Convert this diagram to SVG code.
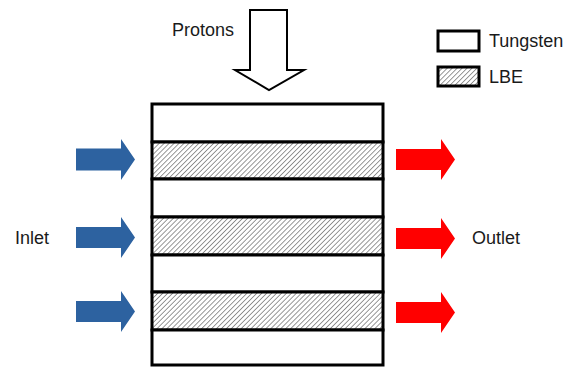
<svg xmlns="http://www.w3.org/2000/svg" width="568" height="367" viewBox="0 0 568 367">
<style>
text{font-family:"Liberation Sans",Arial,sans-serif;font-size:18px;fill:#1a1a1a}
.w{fill:#fff;stroke:#000;stroke-width:3}
.l{fill:url(#hatch);stroke:#000;stroke-width:3}
.in{fill:#2D62A0}
.out{fill:#FF0000}
</style>
<defs>
<pattern id="hatch" patternUnits="userSpaceOnUse" width="3.5" height="3.5" patternTransform="rotate(45)">
<rect width="3.5" height="3.5" fill="#fff"/>
<line x1="0" y1="0" x2="0" y2="3.5" stroke="#444" stroke-width="1.1"/>
</pattern>
</defs>
<rect width="568" height="367" fill="#fff"/>
<g id="protons">
<polygon points="250,10 287,10 287,70 304,70 269,90 235,70 250,70" fill="#fff" stroke="#000" stroke-width="2"/>
<text x="172" y="36">Protons</text>
</g>
<g id="legend">
<rect x="438" y="31" width="41" height="20" class="w" stroke-width="2.5"/>
<text x="489" y="47">Tungsten</text>
<rect x="438" y="67" width="41" height="19" class="l" stroke-width="2.5"/>
<text x="489" y="83">LBE</text>
</g>
<g id="target">
<rect x="152" y="104" width="231" height="38" class="w"/>
<rect x="152" y="142" width="231" height="37" class="l"/>
<rect x="152" y="179" width="231" height="38" class="w"/>
<rect x="152" y="217" width="231" height="38" class="l"/>
<rect x="152" y="255" width="231" height="37" class="w"/>
<rect x="152" y="292" width="231" height="38" class="l"/>
<rect x="152" y="330" width="231" height="35" class="w"/>
</g>
<g id="connectors">
<polygon class="in" points="76,148.5 121,148.5 121,139 135,159.5 121,180 121,170.5 76,170.5"/>
<polygon class="in" points="76,227 121,227 121,217 135,237.5 121,258 121,248 76,248"/>
<polygon class="in" points="76,301 121,301 121,291 135,311.5 121,332 121,322 76,322"/>
<polygon class="out" points="396,149 441,149 441,139 455,159.5 441,180 441,170 396,170"/>
<polygon class="out" points="396,228 441,228 441,218 455,238.5 441,259 441,249 396,249"/>
<polygon class="out" points="396,302 441,302 441,292 455,312.5 441,333 441,323 396,323"/>
</g>
<g id="labels">
<text x="15" y="244">Inlet</text>
<text x="472" y="244">Outlet</text>
</g>
</svg>
